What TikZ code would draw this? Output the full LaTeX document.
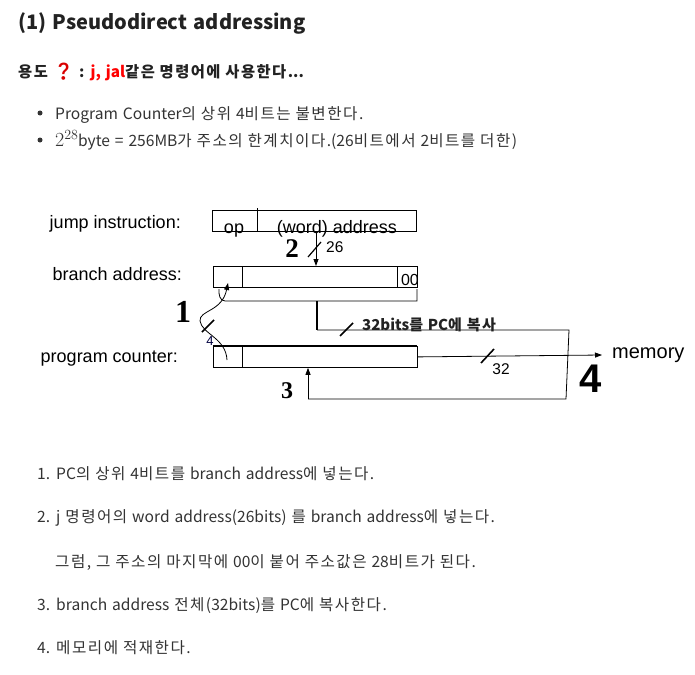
\documentclass[tikz,border=0pt]{standalone}
\usepackage{fontspec}
\setmainfont{Noto Sans CJK KR}[WordSpace=1.4]
\newfontfamily\diagf{Liberation Sans}
\newfontfamily\emojif{Noto Emoji}
\newfontfamily\handf{Liberation Serif}
\newfontfamily\lmrf{Latin Modern Roman}
\usetikzlibrary{arrows.meta,calc}
\definecolor{txt}{HTML}{333333}
\definecolor{ttl}{HTML}{222222}
% slightly wider Hangul tracking
\XeTeXinterchartokenstate=1
\newXeTeXintercharclass\hgcls
\newcount\hgc \hgc="AC00
\loop \XeTeXcharclass\hgc=\hgcls \advance\hgc by 1 \ifnum\hgc<"D7A4 \repeat
\XeTeXinterchartoks\hgcls\hgcls={\kern1.5pt}
\XeTeXinterchartoks\hgcls 0={\kern1.5pt}
\begin{document}
\begin{tikzpicture}[x=1pt,y=-1pt,
  txtline/.style={anchor=base west, inner sep=0, text=txt, font=\fontsize{15.6}{19}\selectfont},
  lbl/.style={anchor=base east, inner sep=0, font=\diagf\fontsize{18}{21}\selectfont},
  reg/.style={draw, line width=0.8pt, anchor=north west, inner sep=0, minimum width=204, minimum height=21},
  wire/.style={line width=0.8pt},
  slashmark/.style={line width=1.6pt},
  tip/.style={-{Triangle[length=7pt,width=5pt]}},
  hand/.style={inner sep=0, font=\handf\bfseries\fontsize{30}{30}\selectfont},
  small/.style={inner sep=0, font=\diagf\fontsize{15.5}{17}\selectfont}]
\useasboundingbox (0,0) rectangle (695,674);
\fill[white] (0,0) rectangle (695,674);

% header texts
\node[anchor=base west, inner sep=0, text=ttl, font=\bfseries\fontsize{20}{24}\selectfont] (title) at (18,30) {(1) Pseudodirect addressing};
\node[anchor=base west, inner sep=0, text=ttl, font=\bfseries\fontsize{15.3}{19}\selectfont] (use) at (18,78)
  {용도 {\emojif\fontsize{17}{19}\selectfont\color{red!85!black}❓} : {\color{red}j, jal}같은 명령어에 사용한다...};
\node[circle, fill=txt, inner sep=0, minimum size=5] (b1) at (40,113) {};
\node[circle, fill=txt, inner sep=0, minimum size=5] (b2) at (40,140) {};
\node[txtline] (t1) at (55,119) {Program Counter의 상위 4비트는 불변한다.};
\node[txtline] (t2) at (55,146) {{\lmrf\fontsize{20}{20}\selectfont 2\raisebox{7pt}{\fontsize{14}{14}\selectfont 28}}byte = 256MB가 주소의 한계치이다.(26비트에서 2비트를 더한)};

% diagram labels
\node[lbl] (ljump) at (181,228) {jump instruction:};
\node[lbl] (lbranch) at (182,280) {branch address:};
\node[lbl] (lpc) at (178,362) {program counter:};

% registers
\node[reg] (jbox) at (212,210) {};
\draw[wire] (257,208) -- (257,231);
\node[inner sep=0, font=\diagf\fontsize{18}{21}\selectfont, anchor=base] (op) at (234,233) {op};
\node[inner sep=0, font=\diagf\fontsize{18}{21}\selectfont, anchor=base] (waddr) at (337,233) {(word) address};
\draw[line width=0.8pt] (212,231) -- (416,231);

\node[reg] (bbox) at (213,266) {};
\draw[wire] (242,266) -- (242,287);
\draw[wire] (397,266) -- (397,287);
\node[inner sep=0, font=\diagf\fontsize{16}{18}\selectfont, anchor=base east] (zz) at (419,285) {00};

\node[reg] (pcbox) at (213,346) {};
\draw[line width=1.4pt] (213,346) -- (417,346);
\draw[wire] (242,346) -- (242,367);

% step 2: word address -> branch address
\draw[wire,tip] (jbox.south -| 316,0) -- (bbox.north -| 316,0);
\draw[slashmark, line width=1.2pt] (308,257) -- (321,242);
\node[small, anchor=west] (n26) at (326,247) {26};
\node[hand, font=\handf\bfseries\fontsize{27}{27}\selectfont] (h2) at (292,249) {2};

% brace under branch address
\coordinate (bmid) at (317,301);
\draw[wire] (219,289) to[out=-95,in=180] (225,301) -- (417,301) -- (417,289);
\coordinate (cor1) at (317,330);
\coordinate (cor2) at (569,330);
\coordinate (cor3) at (566,399);
\coordinate (cor4) at (308,399);
\draw[line width=1.8pt] (bmid) -- (cor1);
\draw[wire] (cor1) -- (cor2) -- (cor3) -- (cor4);
\draw[wire,tip] (cor4) -- (pcbox.south -| cor4);
\draw[slashmark] (340,336) -- (353,323);
\node[anchor=base west, inner sep=0, text=ttl, font=\bfseries\fontsize{15}{18}\selectfont] (copy) at (362,330) {32bits를 PC에 복사};
\node[hand, font=\handf\bfseries\fontsize{24}{24}\selectfont] (h3) at (287,391) {3};

% step 1: PC upper 4 bits -> branch address
\coordinate (pcl) at (227,360);
\coordinate (bl) at (228,283);
\draw[wire,tip] (pcl) .. controls (226,338) and (202,334) .. (200,321) .. controls (199,310) and (222,312) .. (bl);
\draw[slashmark] (202,332) -- (214,320);
\node[inner sep=0, font=\diagf\fontsize{13}{15}\selectfont, text=black!75!blue] (n4) at (210,341) {4};
\node[hand, font=\handf\bfseries\fontsize{32}{32}\selectfont] (h1) at (183,312) {1};

% step 4: PC -> memory
\node[anchor=west, inner sep=0, inner xsep=10pt, font=\diagf\fontsize{20}{22}\selectfont] (mem) at (602,355) {memory};
\draw[wire,tip] (pcbox.east) -- (mem.west);
\draw[slashmark] (481,363) -- (494,349);
\node[small] (n32) at (501,369) {32};
\node[hand, font=\diagf\bfseries\fontsize{40}{40}\selectfont] (h4) at (591,379) {4};

% numbered list
\node[txtline] (l1) at (37,479) {1. PC의 상위 4비트를 branch address에 넣는다.};
\node[txtline] (l2) at (37,522) {2. j 명령어의 word address(26bits) 를 branch address에 넣는다.};
\node[txtline] (l2b) at (55,567) {그럼, 그 주소의 마지막에 00이 붙어 주소값은 28비트가 된다.};
\node[txtline] (l3) at (37,610) {3. branch address 전체(32bits)를 PC에 복사한다.};
\node[txtline] (l4) at (37,653) {4. 메모리에 적재한다.};
\end{tikzpicture}
\end{document}
